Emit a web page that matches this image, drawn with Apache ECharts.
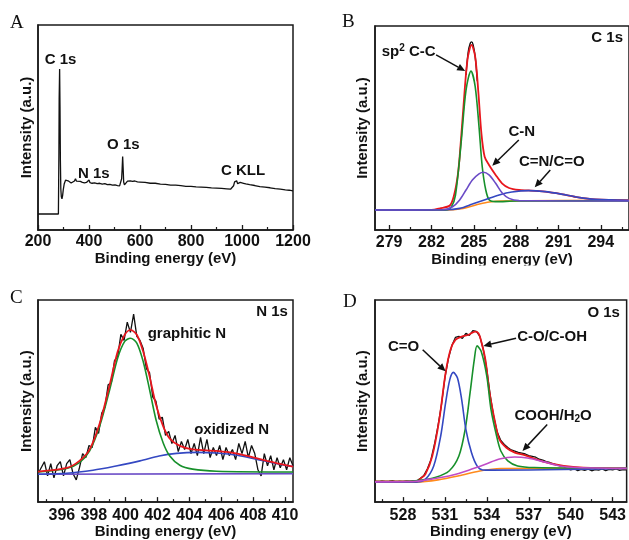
<!DOCTYPE html>
<html><head><meta charset="utf-8">
<script src="https://cdn.jsdelivr.net/npm/echarts@6/dist/echarts.min.js"></script>
<style>html,body{margin:0;padding:0;background:#fff}#c{width:629px;height:540px}</style>
</head><body><div id="c"></div>
<script>
// ---------- Panel A: survey ----------
const aSurvey = [[200,7.8],[240,7.8],[280,7.8],[281.2,8.6],[282,38],[283,64],[284.8,78.5],[286.3,60],[287.8,34],[289.5,20],[291.5,16.2],[294,15.2],[296.5,16.8],[299,19.6],[303,22.6],[308,24.3],[313,24.6],[318,24.0],[323,23.1],[330,22.9],[337,23.3],[343,23.9],[347,25.0],[351,23.8],[358,23.4],[366,23.7],[374,23.2],[382,23.0],[390,23.2],[396,23.4],[400,24.4],[404,23.1],[412,22.8],[422,23.0],[432,22.6],[442,22.8],[452,22.4],[462,22.6],[472,22.1],[482,22.3],[492,21.9],[502,22.0],[512,21.7],[520,21.5],[525,22.0],[528,25.0],[530,30.0],[532,35.8],[534,30.0],[536,23.4],[539,22.0],[542,22.7],[546,22.3],[551,23.8],[556,24.4],[562,24.0],[570,23.7],[580,23.9],[590,23.5],[600,23.4],[620,23.2],[640,22.8],[660,22.8],[680,22.4],[700,22.3],[720,21.9],[740,21.9],[760,21.6],[780,21.3],[800,21.3],[820,21.0],[840,20.9],[860,20.8],[880,20.5],[900,20.4],[920,20.3],[940,20.1],[955,19.9],[962,20.2],[967,21.6],[971,23.5],[975,24.4],[979,24.0],[983,22.6],[988,22.4],[993,23.2],[999,23.3],[1006,22.8],[1015,22.5],[1030,22.1],[1050,21.7],[1070,21.2],[1090,20.9],[1110,20.6],[1130,20.2],[1150,19.9],[1170,19.6],[1185,19.4],[1200,19.1]];
const aTicks = [200,400,600,800,1000,1200];

// ---------- Panel B: C 1s ----------
const bRed = [[278,9.8],[282,9.8],[282.6,10.6],[283.3,12.0],[283.6,17],[283.85,26],[284.0,36],[284.25,58.8],[284.55,83.3],[284.84,90.7],[285.1,85],[285.33,67],[285.54,47.4],[285.77,35.9],[286.08,31.9],[286.55,27.0],[287.0,22.9],[287.5,20.6],[288.2,19.6],[288.9,19.4],[290.06,18.8],[291.2,17.6],[292.4,16],[293.6,15],[296,14.5]];
const bRaw = [[284.45,76],[284.6,87],[284.75,91.5],[284.85,92.2],[284.95,90.8],[285.1,85],[285.25,73]];
const bGreen = [[278,9.8],[283,9.8],[283.4,11.2],[283.7,17],[284.1,42.5],[284.45,68.6],[284.8,77.9],[285.1,70.3],[285.37,50.7],[285.6,31],[285.85,19.6],[286.1,14.7],[286.55,13.9],[288,14.2],[296,14.3]];
const bPurple = [[278,9.8],[282.8,9.9],[283.5,11.4],[284.0,14.7],[284.45,19.6],[284.9,24.5],[285.37,27.5],[285.68,28.3],[286.08,27],[286.55,22.9],[287.0,18.3],[287.5,15.5],[288.2,14.4],[296,14.2]];
const bBlue = [[278,9.8],[283,9.9],[284.0,10.6],[284.9,12.7],[285.85,15],[286.8,17.2],[287.7,18.6],[288.9,19.3],[290.06,18.8],[291.2,17.6],[292.4,16],[293.6,15],[296,14.5]];
const bOrange = [[278,9.8],[283.2,9.8],[284.0,10.3],[284.7,11.4],[285.4,12.7],[286.1,13.7],[287,14.2],[296,14.5]];
const bTicks = [279,282,285,288,291,294];
const bMinor = [280.5,283.5,286.5,289.5,292.5,295.5];

// ---------- Panel C: N 1s ----------
const cRawStart = 394.5, cRawStep = 0.2;
const cRaw = [14,17,20,13,19,12,18,20,13,19,21,14,11,17,24,22,28,27,37,34,44,47,58,59,70,72,83,80,89,84,93,82,80,76,66,64,52,50,41,42,33,35,29,33,25,30,26,31,24,29,23,32,24,31,22,27,23,28,21,27,23,26,21,29,24,30,22,28,24,16,13,24,18,23,16,22,17,21,16,22,18];
const cRed = [[394.5,15.1],[396.3,16.9],[397.1,20.4],[397.74,26.1],[398.37,38.9],[399.0,58.1],[399.5,74.5],[399.94,82.8],[400.3,85.2],[400.7,82.8],[401.1,74.5],[401.5,62.2],[401.9,48.3],[402.35,37.6],[402.77,31.4],[403.4,27.8],[404.2,26.1],[405.7,25.3],[407.0,24.0],[408.2,21.7],[409.5,19.2],[410.5,17.6]];
const cGreen = [[394.5,14.9],[396.3,16.6],[397.1,19.5],[397.74,25.3],[398.37,37.6],[399.0,55.7],[399.5,71.3],[399.94,79.5],[400.3,81.1],[400.7,78.7],[401.1,69.6],[401.5,55.7],[401.9,40.9],[402.35,29.4],[402.77,22.8],[403.4,18.2],[404.2,16.3],[405.7,15.3],[410.5,14.9]];
const cBlue = [[394.5,13.8],[396.3,14.3],[397.95,15.8],[399.4,17.9],[400.9,20.4],[402.1,22.8],[403.2,24.1],[404.45,24.6],[405.7,24.3],[407.0,23.2],[408.2,21.2],[409.5,19.0],[410.5,17.6]];
const cBase = [[394.5,13.8],[410.5,14.1]];
const cTicks = [396,398,400,402,404,406,408,410];
const cMinor = [395,397,399,401,403,405,407,409];

// ---------- Panel D: O 1s ----------
const dRawStart = 526, dRawStep = 0.25;
const dRaw = [10.3,10.0,10.4,10.1,10.2,10.5,10.0,10.3,10.1,10.4,10.2,10.5,10.6,11.8,13.2,16.5,21.0,28.5,37.5,48.0,61.5,71.0,77.5,81.5,82.0,81.0,83.5,82.5,84.8,84.5,82.0,75.5,65.5,52.5,42.0,34.5,30.5,28.5,27.0,25.8,25.2,24.6,24.2,23.8,23.0,22.6,22.2,21.2,20.8,20.0,19.6,18.9,18.4,17.9,17.5,16.6,16.0,16.5,15.6,16.2,15.7,16.3,15.5,16.1,15.8,16.4,15.6,16.2,15.9,16.4,15.7,16.1,16.0];
const dRed = [[526,10.2],[529,10.2],[529.2,11.3],[529.6,13.8],[530.1,22.8],[530.6,40.9],[531.05,63.9],[531.4,75.4],[531.75,80.3],[532.2,81.9],[532.7,82.8],[533.15,84.4],[533.4,83.6],[533.6,79.5],[533.9,70.4],[534.2,54],[534.6,39.2],[534.9,31],[535.4,26.9],[536,24.5],[536.7,23.2],[537.4,21.5],[538.3,19.5],[539.5,17.9],[540.9,17.1],[544,16.7]];
const dBlue = [[526,10],[529,10],[529.6,11.3],[530.2,17.9],[530.7,32.7],[531.05,49.1],[531.35,60.6],[531.6,64.2],[531.9,61.4],[532.2,50.7],[532.5,36],[532.9,24.5],[533.3,17.9],[533.7,15.9],[534.3,15.8],[544,16.6]];
const dGreen = [[526,10.2],[528,10.2],[529.2,10.8],[530.3,12.2],[531.3,15.4],[532.0,22.8],[532.45,36],[532.8,54],[533.1,70.4],[533.3,77.3],[533.6,74.5],[534.0,62.2],[534.3,45.8],[534.7,32.7],[535.0,25.3],[535.5,20.4],[536.2,17.9],[537.4,17.1],[544,16.7]];
const dMagenta = [[526,10],[528.9,10.3],[530.3,11.7],[531.5,13.3],[532.7,15.8],[533.9,18.7],[534.9,21.3],[536.0,22.3],[536.9,21.8],[538.1,19.9],[539.2,17.9],[540.4,17.1],[544,16.7]];
const dOrange = [[526,10],[529,10],[530.5,11],[532,13.0],[533.5,15.4],[535,16.6],[544,16.7]];
const dTicks = [528,531,534,537,540,543];
const dMinor = [526.5,529.5,532.5,535.5,538.5,541.5];

// ---------- Annotations (data coordinates) ----------
const annA = [{t:'C 1s',x:288.6,y:82.9},{t:'N 1s',x:419,y:27.3},{t:'O 1s',x:534.6,y:41.5},{t:'C KLL',x:1004,y:28.8}];
const annB = [{t:'{a|sp}{s|2}{a| C-C}',x:280.39,y:87.3},{t:'C-N',x:288.4,y:48},{t:'C=N/C=O',x:290.53,y:33.3},{t:'C 1s',x:294.45,y:94.1}];
const arrB = [[282.33,85.8,284.39,77.9],[288.19,44.1,286.31,31.5],[290.42,29.4,289.32,20.9]];
const annC = [{t:'N 1s',x:409.19,y:94.1},{t:'graphitic N',x:403.84,y:83.3},{t:'oxidized N',x:406.65,y:35.5}];
const annD = [{t:'O 1s',x:542.36,y:93.6},{t:'C=O',x:528.05,y:76.6},{t:'C-O/C-OH',x:538.67,y:81.8},{t:'{a|COOH/H}{b|2}{a|O}',x:538.74,y:42.9}];
const arrD = [[529.41,75.4,531.05,64.7],[536.09,81.1,533.75,77.3],[538.32,38.4,536.55,25.3]];

const RED='#e8161d', GREEN='#17902b', PURPLE='#6a4bc6', BLUE='#3448c2', ORANGE='#ff8a1c', MAGENTA='#c04bc6', BLACK='#111';
const FONT='"Liberation Sans", Arial, sans-serif';
const INK='#1a1a1a';
const plain = v => String(v);

function grid(l,t,w,h){return {left:l,top:t,width:w,height:h,show:true,borderColor:INK,borderWidth:1.5,backgroundColor:'transparent'};}
function mainX(gi,min,max,ticks,margin,gap){
  return {type:'value',gridIndex:gi,min:min,max:max,position:'bottom',
    axisLine:{show:true,onZero:false,lineStyle:{color:INK,width:1.5}},
    axisTick:{show:true,inside:true,length:5,lineStyle:{color:INK,width:1.3},customValues:ticks},
    axisLabel:{show:true,customValues:ticks,formatter:plain,color:BLACK,fontFamily:FONT,fontWeight:'bold',fontSize:16,margin:margin},
    splitLine:{show:false},
    name:'Binding energy (eV)',nameLocation:'middle',nameGap:gap,
    nameTextStyle:{color:BLACK,fontFamily:FONT,fontWeight:'bold',fontSize:15}};
}
function minorX(gi,min,max,ticks){
  return {type:'value',gridIndex:gi,min:min,max:max,position:'bottom',
    axisLine:{show:false},axisLabel:{show:false},splitLine:{show:false},
    axisTick:{show:true,inside:true,length:3,lineStyle:{color:INK,width:1.2},customValues:ticks}};
}
function yAx(gi,gap){
  return {type:'value',gridIndex:gi,min:0,max:100,
    axisLine:{show:true,lineStyle:{color:INK,width:1.5}},axisTick:{show:false},axisLabel:{show:false},splitLine:{show:false},
    name:'Intensity (a.u.)',nameLocation:'middle',nameGap:gap,
    nameTextStyle:{color:BLACK,fontFamily:FONT,fontWeight:'bold',fontSize:15}};
}
function ln(xi,yi,data,color,w,smooth){
  return {type:'line',xAxisIndex:xi,yAxisIndex:yi,data:data,showSymbol:false,symbol:'none',
    smooth:smooth?0.3:false,lineStyle:{color:color,width:w},silent:true};
}
const cRawData = cRaw.map((v,i)=>[cRawStart+i*cRawStep, v]);
const dRawData = dRaw.map((v,i)=>[dRawStart+i*dRawStep, v]);

const chart = echarts.init(document.getElementById('c'));
chart.setOption({
  animation:false,
  backgroundColor:'#fff',
  grid:[grid(38,25,255,205),grid(375,26,256,204),grid(38,300,255,203),grid(375,300,256,203)],
  xAxis:[
    Object.assign(mainX(0,200,1200,aTicks,4,19),{axisTick:{show:true,inside:true,length:5,lineStyle:{color:INK,width:1.3}},axisLabel:{show:true,formatter:plain,color:BLACK,fontFamily:FONT,fontWeight:'bold',fontSize:16,margin:4},interval:200,minorTick:{show:true,splitNumber:2,length:3,lineStyle:{color:INK,width:1.2}}}),
    mainX(1,278,296,bTicks,5,22), minorX(1,278,296,bMinor),
    mainX(2,394.5,410.5,cTicks,5,19), minorX(2,394.5,410.5,cMinor),
    mainX(3,526,544,dTicks,5,20), minorX(3,526,544,dMinor)
  ],
  yAxis:[yAx(0,4),yAx(1,5),yAx(2,4),yAx(3,5)],
  series:[
    ln(0,0,aSurvey,BLACK,1.3,false),
    ln(1,1,bOrange,ORANGE,1.6,true),
    ln(1,1,bRaw,BLACK,1.4,true),
    ln(1,1,bRed,RED,1.8,true),
    ln(1,1,bGreen,GREEN,1.6,true),
    ln(1,1,bBlue,BLUE,1.6,true),
    ln(1,1,bPurple,PURPLE,1.6,true),
    ln(3,2,cRawData,BLACK,1.3,false),
    ln(3,2,cBase,PURPLE,1.6,false),
    ln(3,2,cBlue,BLUE,1.6,true),
    ln(3,2,cGreen,GREEN,1.6,true),
    ln(3,2,cRed,RED,1.8,true),
    ln(5,3,dRawData,BLACK,1.3,false),
    ln(5,3,dOrange,ORANGE,1.6,true),
    ln(5,3,dRed,RED,1.8,true),
    ln(5,3,dGreen,GREEN,1.6,true),
    ln(5,3,dBlue,BLUE,1.6,true),
    ln(5,3,dMagenta,MAGENTA,1.6,true)
  ]
});

// ---------- graphic overlays ----------
const g = [];
g.push({type:'rect',shape:{x:320,y:265.5,width:320,height:22},style:{fill:'#fff'},z:50});
const letters=[['A',10,23],['B',342,22],['C',10,298],['D',343,302]];
letters.forEach(l=>g.push({type:'text',x:l[1],y:l[2],z:60,style:{text:l[0],fill:BLACK,font:'19px "Liberation Serif", "Times New Roman", serif',align:'left',verticalAlign:'middle'}}));
const rich={a:{fontFamily:FONT,fontWeight:'bold',fontSize:15,lineHeight:18,fill:BLACK,color:BLACK},
            s:{fontFamily:FONT,fontWeight:'bold',fontSize:10,lineHeight:18,verticalAlign:'top',fill:BLACK,color:BLACK,padding:[0,0,0,0]},
            b:{fontFamily:FONT,fontWeight:'bold',fontSize:10,lineHeight:18,verticalAlign:'bottom',fill:BLACK,color:BLACK}};
function addTexts(arr,xi,yi){
  arr.forEach(a=>{
    const p=chart.convertToPixel({xAxisIndex:xi,yAxisIndex:yi},[a.x,a.y]);
    const st={text:a.t,fill:BLACK,font:'bold 15px '+FONT,align:'center',verticalAlign:'middle'};
    if(a.t.indexOf('{')>=0){st.rich=rich;}
    g.push({type:'text',x:p[0],y:p[1],z:60,style:st});
  });
}
function addArrows(arr,xi,yi){
  arr.forEach(a=>{
    const p1=chart.convertToPixel({xAxisIndex:xi,yAxisIndex:yi},[a[0],a[1]]);
    const p2=chart.convertToPixel({xAxisIndex:xi,yAxisIndex:yi},[a[2],a[3]]);
    const dx=p2[0]-p1[0], dy=p2[1]-p1[1], L=Math.hypot(dx,dy), ux=dx/L, uy=dy/L;
    const hl=8, hw=3.6;
    const bx=p2[0]-ux*hl, by=p2[1]-uy*hl;
    g.push({type:'line',z:60,shape:{x1:p1[0],y1:p1[1],x2:bx,y2:by},style:{stroke:BLACK,lineWidth:1.5}});
    g.push({type:'polygon',z:60,shape:{points:[[p2[0],p2[1]],[bx-uy*hw,by+ux*hw],[bx+uy*hw,by-ux*hw]]},style:{fill:BLACK}});
  });
}
addTexts(annA,0,0);
addTexts(annB,1,1); addArrows(arrB,1,1);
addTexts(annC,3,2);
addTexts(annD,5,3); addArrows(arrD,5,3);
chart.setOption({graphic:g});
</script></body></html>
